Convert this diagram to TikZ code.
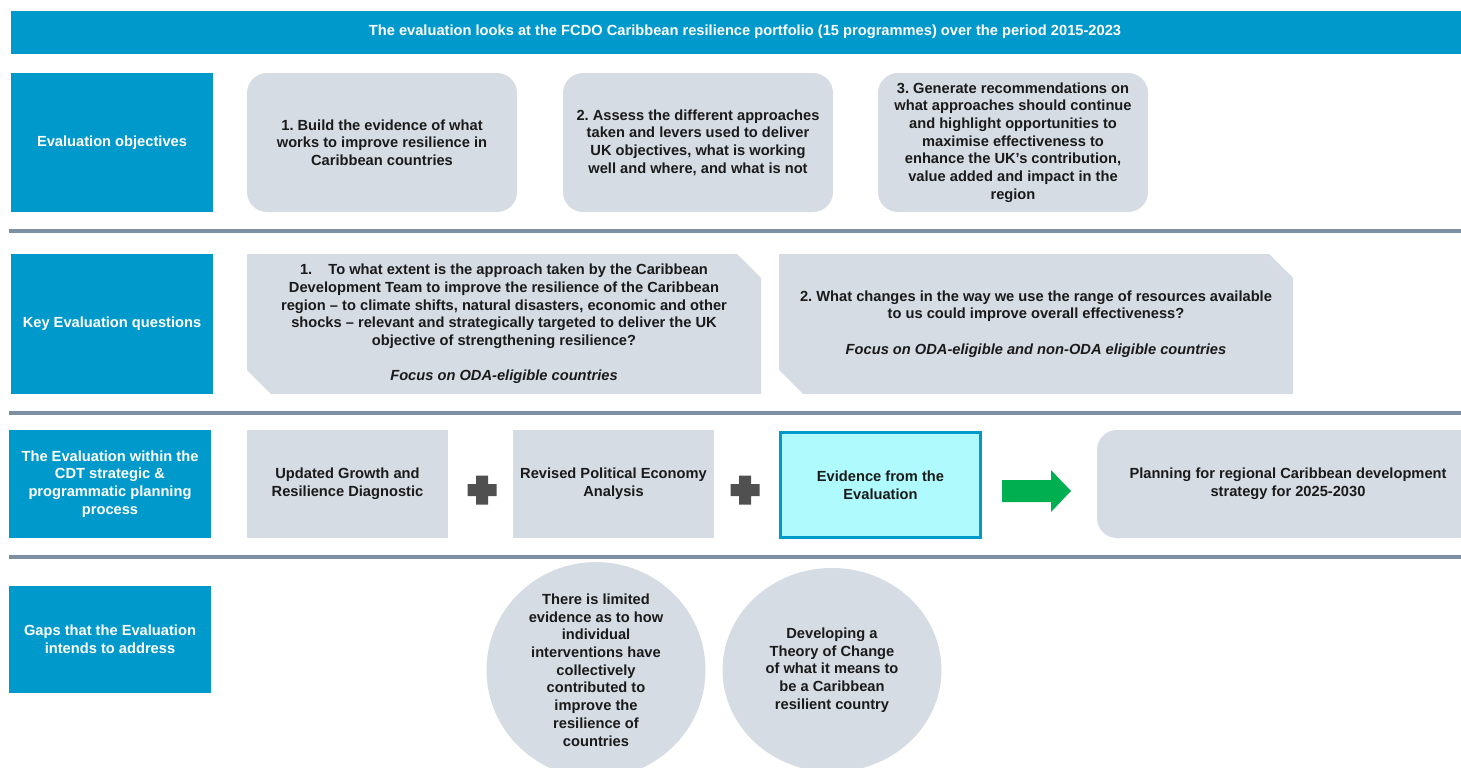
\documentclass[tikz,border=0pt]{standalone}
\usepackage{fontspec}
\setmainfont{Liberation Sans}
\usetikzlibrary{shapes.geometric}
\definecolor{hdrblue}{HTML}{0099CC}
\definecolor{boxgray}{HTML}{D6DCE4}
\definecolor{rulegray}{HTML}{7C8FA3}
\definecolor{evcyan}{HTML}{AFFAFC}
\definecolor{gogreen}{HTML}{00B050}
\definecolor{plusgray}{HTML}{505050}
\definecolor{inktext}{HTML}{1A1A1A}
\frenchspacing

\begin{document}
\begin{tikzpicture}[x=0.75pt,y=-0.75pt,
  every node/.style={font=\fontsize{11}{13.3}\selectfont\bfseries, align=center, inner sep=0pt, text=inktext},
  sized/.style 2 args={minimum width=#1*0.75pt, minimum height=#2*0.75pt},
  label box/.style={fill=hdrblue, text=white},
  grey box/.style={fill=boxgray},
  round box/.style={grey box, rounded corners=15pt},
  rule/.style={draw=rulegray, line width=2.6pt},
  plus sign/.style={fill=plusgray},
  go arrow/.style={fill=gogreen}
]
\useasboundingbox (0,0) rectangle (1461,768);

\begin{scope}
  \clip (0,0) rectangle (1461,768);
  % header banner
  \node[label box, sized={1468}{43}] (banner) at (745,32)
    {The evaluation looks at the FCDO Caribbean resilience portfolio (15 programmes) over the period 2015-2023};
  % row separators
  \draw[rule] (9,231) -- (1479,231);
  \draw[rule] (9,413) -- (1479,413);
  \draw[rule] (9,557) -- (1479,557);
  % planning box running off the right edge
  \node[round box, sized={382}{108}] (plan) at (1288,484)
    {Planning for regional Caribbean development\\strategy for 2025-2030};
  % gaps
  \node[grey box, ellipse, sized={219}{204}] (gap1) at (596,670)
    {There is limited\\evidence as to how\\individual\\interventions have\\collectively\\contributed to\\improve the\\resilience of\\countries};
  \node[grey box, ellipse, sized={219}{204}] (gap2) at (832,670)
    {Developing a\\Theory of Change\\of what it means to\\be a Caribbean\\resilient country};
\end{scope}

% row labels
\node[label box, sized={202}{139}] (objL) at (112,142.5) {Evaluation objectives};
\node[label box, sized={202}{140}] (kqL) at (112,324) {Key Evaluation questions};
\node[label box, sized={202}{108}] (cdtL) at (110,484)
  {The Evaluation within the\\CDT strategic \&\\programmatic planning\\process};
\node[label box, sized={202}{107}] (gapL) at (110,639.5) {Gaps that the Evaluation\\intends to address};

% objectives
\node[round box, sized={270}{139}] (obj1) at (382,142.5)
  {1. Build the evidence of what\\works to improve resilience in\\Caribbean countries};
\node[round box, sized={270}{139}] (obj2) at (698,142.5)
  {2. Assess the different approaches\\taken and levers used to deliver\\UK objectives, what is working\\well and where, and what is not};
\node[round box, sized={270}{139}] (obj3) at (1013,142.5)
  {3. Generate recommendations on\\what approaches should continue\\and highlight opportunities to\\maximise effectiveness to\\enhance the UK’s contribution,\\value added and impact in the\\region};

% key questions (snipped corners)
\fill[boxgray] (247,254) -- (737,254) -- (761,278) -- (761,394) -- (271,394) -- (247,370) -- cycle;
\node (q1) at (504,324)
  {1.\hspace{1.1em}To what extent is the approach taken by the Caribbean\\
   Development Team to improve the resilience of the Caribbean\\
   region – to climate shifts, natural disasters, economic and other\\
   shocks – relevant and strategically targeted to deliver the UK\\
   objective of strengthening resilience?\\[13.3pt]
   \textit{Focus on ODA-eligible countries}};
\fill[boxgray] (779,254) -- (1269,254) -- (1293,278) -- (1293,394) -- (803,394) -- (779,370) -- cycle;
\node (q2) at (1036,324)
  {2. What changes in the way we use the range of resources available\\
   to us could improve overall effectiveness?\\[13.3pt]
   \textit{Focus on ODA-eligible and non-ODA eligible countries}};

% planning process
\node[grey box, sized={201}{108}] (diag) at (347.5,484) {Updated Growth and\\Resilience Diagnostic};
\node[grey box, sized={201}{108}] (pea) at (613.5,484) {Revised Political Economy\\Analysis};
\node[fill=evcyan, draw=hdrblue, line width=2.25pt, sized={200}{105}] (evid) at (880.5,485)
  {Evidence from the\\Evaluation};
\fill[plus sign, shift={(482,490)}] (-14.5,-6) rectangle (14.5,6) (-6,-14.5) rectangle (6,14.5);
\fill[plus sign, shift={(745,490)}] (-14.5,-6) rectangle (14.5,6) (-6,-14.5) rectangle (6,14.5);
\fill[go arrow] (1002,480) -- (1051,480) -- (1051,470) -- (1071,491) -- (1051,512) -- (1051,502) -- (1002,502) -- cycle;
\end{tikzpicture}
\end{document}
